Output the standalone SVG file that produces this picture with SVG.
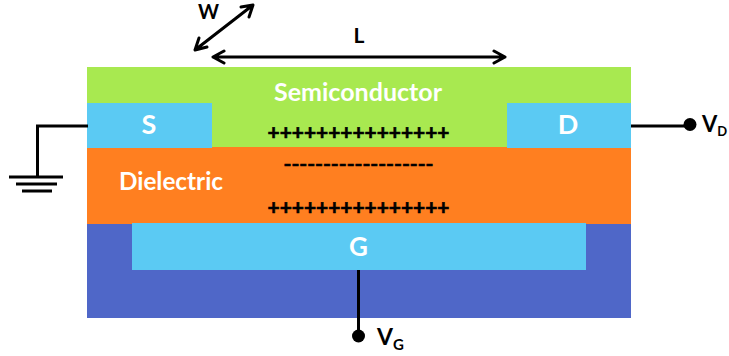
<svg xmlns="http://www.w3.org/2000/svg" width="729" height="356" viewBox="0 0 729 356">
<style>
text{font-family:"Lato","Open Sans","Liberation Sans",sans-serif;font-weight:700}
.w{fill:#fff;font-size:25px;text-anchor:middle}
.k{fill:#000;text-anchor:middle}
.l{fill:none;stroke:#000;stroke-width:3}
.a{fill:none;stroke:#000;stroke-width:3;stroke-linecap:round;stroke-linejoin:round}
.c{fill:#5bcaf3}
</style>
<g id="gate-substrate"><rect x="87" y="223" width="544" height="95" fill="#4f67c8"/></g>
<g id="dielectric"><rect x="87" y="146" width="544" height="78" fill="#ff7f20"/><text class="w" x="171" y="190" textLength="104" lengthAdjust="spacingAndGlyphs">Dielectric</text></g>
<g id="semiconductor"><rect x="87" y="67" width="544" height="80" fill="#a8e950"/><text class="w" x="358" y="101" textLength="168" lengthAdjust="spacingAndGlyphs">Semiconductor</text></g>
<g id="source"><rect class="c" x="87" y="103" width="125" height="45"/><text class="w" x="149" y="134" style="font-size:27px">S</text></g>
<g id="drain"><rect class="c" x="507" y="103" width="124" height="45"/><text class="w" x="568" y="134" style="font-size:27px">D</text></g>
<g id="gate"><rect class="c" x="132" y="223" width="454" height="47"/><text class="w" x="358.500" y="256" style="font-size:26px">G</text></g>
<g id="charges" stroke="#000" stroke-width="0.6">
<text class="k" x="358.500" y="140" style="font-size:20px" textLength="182" lengthAdjust="spacingAndGlyphs">+++++++++++++++</text>
<text class="k" x="358.500" y="171" style="font-size:18px" textLength="150" lengthAdjust="spacingAndGlyphs">-------------------</text>
<text class="k" x="358.500" y="215" style="font-size:20px" textLength="182" lengthAdjust="spacingAndGlyphs">+++++++++++++++</text>
</g>
<g id="connectors">
<path class="l" d="M88 126H37.500V177"/>
<path class="l" d="M9 177H63M16 184H57M22 191H52"/>
<path class="l" d="M631 126H690"/>
<circle cx="690" cy="124.500" r="6.500"/>
<path class="l" d="M358.500 270V337"/>
<circle cx="358.500" cy="336" r="6.500"/>
<path class="a" d="M213 57H505M224 51L213 57L224 63M494 51L505 57L494 63"/>
<path class="a" d="M195 50L253 5M207 47L195 50L199 38M241 7L253 5L249 17"/>
</g>
<g id="labels">
<text class="k" x="208.500" y="18.500" style="font-size:20px">W</text>
<text class="k" x="359" y="43" style="font-size:21px">L</text>
<text x="702" y="132" style="font-size:22px">V<tspan dy="4" style="font-size:13px">D</tspan></text>
<text x="377" y="345" style="font-size:23px">V<tspan dy="5" style="font-size:15px">G</tspan></text>
</g>
</svg>
